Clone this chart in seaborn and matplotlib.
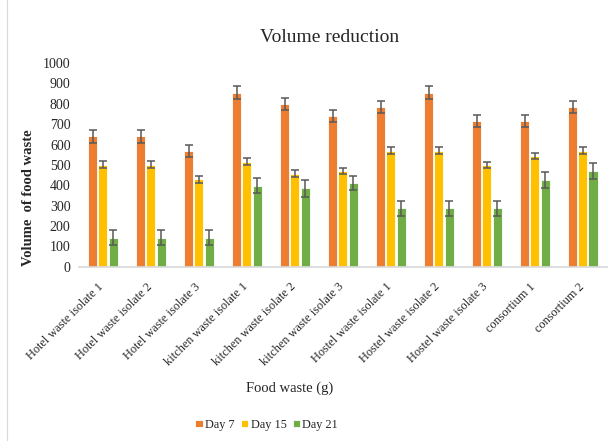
import matplotlib
matplotlib.use('Agg')
import matplotlib.pyplot as plt
import matplotlib.transforms as mtransforms
from matplotlib.lines import Line2D
import seaborn as sns
import pandas as pd

# ====================== DATA ======================
CATEGORIES = ['Hotel waste isolate 1', 'Hotel waste isolate 2', 'Hotel waste isolate 3',
              'kitchen waste isolate 1', 'kitchen waste isolate 2', 'kitchen waste isolate 3',
              'Hostel waste isolate 1', 'Hostel waste isolate 2', 'Hostel waste isolate 3',
              'consortium 1', 'consortium 2']
DAYS = ['Day 7', 'Day 15', 'Day 21']

day7 = [640, 640, 570, 855, 800, 740, 785, 855, 715, 715, 785]
day15 = [500, 500, 430, 515, 457, 470, 570, 570, 500, 542, 570]
day21 = [143, 143, 143, 398, 385, 413, 287, 287, 287, 426, 470]

err7 = [30, 30, 30, 30, 28, 28, 30, 30, 30, 28, 30]
err15 = [17, 17, 17, 17, 18, 15, 17, 17, 15, 15, 17]
err21 = [38, 38, 38, 38, 40, 35, 38, 38, 38, 40, 38]

COLORS = ['#ED7D31', '#FFC000', '#70AD47']

# ====================== PLOT ======================
sns.set_theme(style='white')
plt.rcParams['font.family'] = ['Liberation Serif', 'DejaVu Serif']

df = pd.DataFrame({
    'category': CATEGORIES * 3,
    'day': [d for d in DAYS for _ in CATEGORIES],
    'value': day7 + day15 + day21,
})

fig = plt.figure(figsize=(6.16, 4.41), dpi=100)
ax = fig.add_axes([0.128, 0.395, 0.857, 0.462])

sns.barplot(data=df, x='category', y='value', hue='day', hue_order=DAYS,
            order=CATEGORIES, palette=COLORS, width=0.64, gap=0.12,
            edgecolor='white', linewidth=0.6, saturation=1, ax=ax, legend=True)

# Error bars at bar centres
for container, errs in zip(ax.containers, [err7, err15, err21]):
    xs = [p.get_x() + p.get_width() / 2 for p in container.patches]
    ys = [p.get_height() for p in container.patches]
    ax.errorbar(xs, ys, yerr=errs, fmt='none', ecolor='#595959',
                elinewidth=1.1, capsize=3, capthick=1.1, zorder=5)

ax.set_ylim(0, 1000)
ax.set_yticks(range(0, 1001, 100))
ax.set_xlim(-0.5, 10.5)
ax.tick_params(axis='y', labelsize=10, length=0, pad=6)
ax.tick_params(axis='x', labelsize=8.8, length=0, pad=10)
shift = mtransforms.ScaledTranslation(-0.05, 0, fig.dpi_scale_trans)
for lbl in ax.get_xticklabels():
    lbl.set_rotation(45)
    lbl.set_ha('right')
    lbl.set_rotation_mode('anchor')
    lbl.set_transform(lbl.get_transform() + shift)

for s in ['top', 'right', 'left']:
    ax.spines[s].set_visible(False)
ax.spines['bottom'].set_color('#D9D9D9')

fig.text(330 / 616, 1 - 37 / 441, 'Volume reduction', fontsize=14,
         ha='center', va='center')
ax.set_ylabel('Volume  of food waste', fontsize=10.5, fontweight='bold')
ax.yaxis.set_label_coords(-0.083, 0.34)
ax.set_xlabel('Food waste (g)', fontsize=10.5)
ax.xaxis.set_label_coords(0.40, -0.565)

ax.legend(loc='center', bbox_to_anchor=(0.356, -0.775), ncol=3, frameon=False,
          fontsize=8.8, handlelength=0.6, handleheight=0.6, handletextpad=0.2,
          columnspacing=0.5)

# chart-area border
fig.add_artist(Line2D([7 / 616, 7 / 616], [0, 1], color='#D9D9D9', linewidth=0.8))

fig.savefig('out.png', dpi=100, facecolor='white')
